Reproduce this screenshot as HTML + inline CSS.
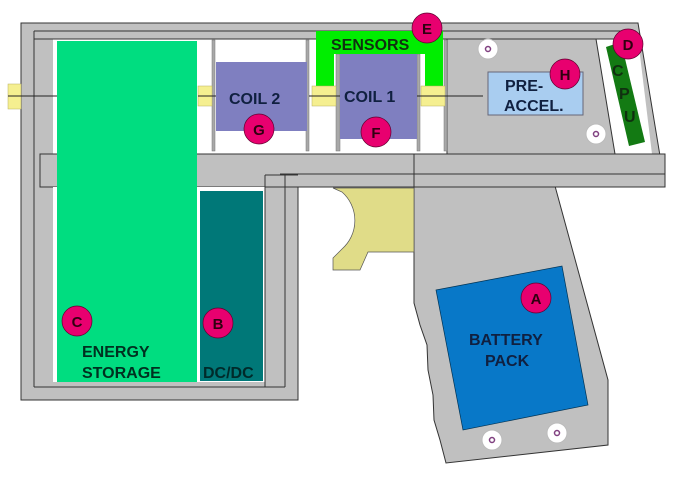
<!DOCTYPE html><html><head><style>body{margin:0;background:#fff}svg{display:block}text{font-family:"Liberation Sans",Arial,sans-serif;font-weight:bold}</style></head><body>
<svg width="679" height="485" viewBox="0 0 679 485">
<rect width="679" height="485" fill="#fff"/>
<path d="M21,23 H638 L665,186 H555 L608,380 V445 L446,463 L440,440 L434,420 L433,395 L428,370 L427,345 L420,325 L414,303 V186 H298 V400 H21 Z" fill="#c0c0c0" stroke="#333" stroke-width="1"/>
<rect x="53" y="39" width="394" height="115" fill="#fff"/>
<path d="M596,39 H638 L652,154 H615 Z" fill="#fff"/>
<line x1="34" y1="31" x2="636" y2="31" stroke="#333"/>
<line x1="34" y1="39" x2="638" y2="39" stroke="#333"/>
<line x1="34" y1="31" x2="34" y2="387" stroke="#333"/>
<line x1="596" y1="39" x2="615" y2="154" stroke="#333"/>
<line x1="447" y1="39" x2="447" y2="154" stroke="#333"/>
<rect x="40" y="154" width="625" height="33" fill="#c0c0c0" stroke="#333"/>
<line x1="280" y1="174" x2="665" y2="174" stroke="#333"/>
<line x1="414" y1="154" x2="414" y2="187" stroke="#333"/>
<rect x="53" y="187" width="212" height="195" fill="#fff"/>
<line x1="265" y1="175" x2="265" y2="387" stroke="#333"/>
<line x1="285" y1="175" x2="285" y2="387" stroke="#333"/>
<line x1="265" y1="175" x2="298" y2="175" stroke="#333"/>
<line x1="34" y1="387" x2="285" y2="387" stroke="#333"/>
<rect x="57" y="41" width="140" height="341" fill="#00dd80"/>
<rect x="200" y="191" width="63" height="190" fill="#007878"/>
<g fill="#a8a8a8" stroke="#777" stroke-width="0.5">
<rect x="212" y="40" width="3" height="111"/><rect x="306" y="40" width="3" height="111"/>
<rect x="336" y="54" width="4" height="97"/><rect x="417" y="54" width="3" height="97"/>
<rect x="444" y="40" width="3" height="111"/></g>
<path d="M316,31 H443 V86 H425 V54 H334 V86 H316 Z" fill="#00ee00"/>
<rect x="216" y="62" width="91" height="69" fill="#7f7fc0"/>
<rect x="340" y="54" width="77" height="85" fill="#7f7fc0"/>
<g fill="#f5ef90" stroke="#b8b060" stroke-width="0.5">
<rect x="8" y="84" width="13" height="25"/><rect x="198" y="86" width="14" height="20"/>
<rect x="312" y="86" width="24" height="20"/><rect x="421" y="86" width="24" height="20"/></g>
<g stroke="#222" stroke-width="1"><line x1="8" y1="96" x2="57" y2="96"/><line x1="198" y1="96" x2="216" y2="96"/><line x1="309" y1="96" x2="340" y2="96"/><line x1="417" y1="96" x2="483" y2="96"/></g>
<rect x="488" y="72" width="95" height="43" fill="#a9cdf0" stroke="#667"/>
<polygon points="606,47 621,42 645,142 629,146" fill="#137a13"/>
<path d="M333,188 H414 V252 H368 L360,270 H333 V258 L342,249 A38,38 0 0 0 342,192 Z" fill="#e0dc88" stroke="#555" stroke-width="0.7"/>
<polygon points="436,290 562,266 588,405 463,430" fill="#0878c8" stroke="#035" stroke-width="0.7"/>
<g fill="#fff" stroke="#bbb"><circle cx="488" cy="49" r="10"/><circle cx="596" cy="134" r="10"/><circle cx="492" cy="440" r="10"/><circle cx="557" cy="433" r="10"/></g>
<g fill="none" stroke="#804080" stroke-width="1.5"><circle cx="488" cy="49" r="2.5"/><circle cx="596" cy="134" r="2.5"/><circle cx="492" cy="440" r="2.5"/><circle cx="557" cy="433" r="2.5"/></g>
<g font-size="16" fill="#102040">
<text x="229" y="104">COIL 2</text>
<text x="344" y="102">COIL 1</text>
<text x="331" y="50" fill="#103010">SENSORS</text>
<text x="505" y="91">PRE-</text>
<text x="504" y="111">ACCEL.</text>
<text x="82" y="357" fill="#003020">ENERGY</text>
<text x="82" y="378" fill="#003020">STORAGE</text>
<text x="203" y="378" fill="#002a2a">DC/DC</text>
<text x="469" y="345">BATTERY</text>
<text x="485" y="366">PACK</text>
<text x="612" y="76" fill="#103010">C</text>
<text x="619" y="99" fill="#103010">P</text>
<text x="624" y="122" fill="#103010">U</text>
</g>
<g fill="#e8006f" stroke="#600030" stroke-width="0.7">
<circle cx="427" cy="28" r="15"/><circle cx="628" cy="44" r="15"/><circle cx="565" cy="74" r="15"/><circle cx="259" cy="129" r="15"/><circle cx="376" cy="132" r="15"/><circle cx="77" cy="321" r="15"/><circle cx="218" cy="323" r="15"/><circle cx="536" cy="298" r="15"/></g>
<g font-size="15" fill="#300010" text-anchor="middle">
<text x="427" y="34">E</text><text x="628" y="50">D</text><text x="565" y="80">H</text><text x="259" y="135">G</text><text x="376" y="138">F</text><text x="77" y="327">C</text><text x="218" y="329">B</text><text x="536" y="304">A</text></g>
</svg></body></html>
